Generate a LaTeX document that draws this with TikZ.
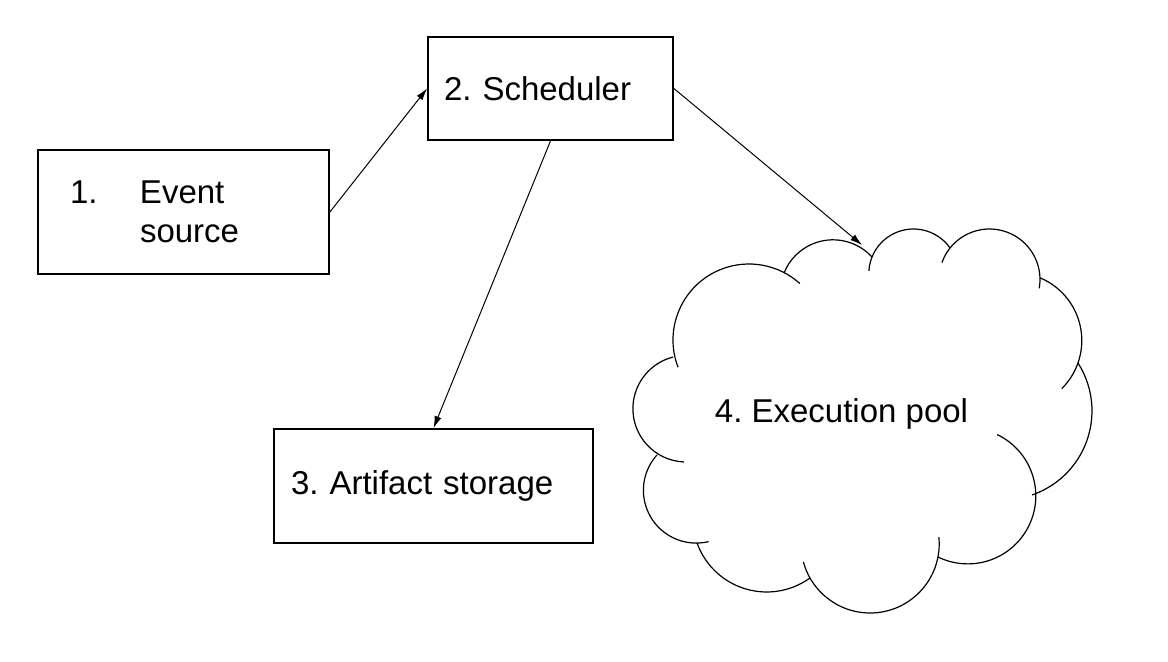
\documentclass[tikz,border=0pt]{standalone}
\usepackage{fontspec}
\setmainfont{Liberation Sans}
\usepackage{tikz}
\usetikzlibrary{arrows.meta}
\frenchspacing

\begin{document}
\begin{tikzpicture}[x=0.5pt,y=-0.5pt,
	every node/.style={font=\fontsize{16.5}{19.5}\selectfont},
	box/.style={draw, line width=0.9pt, rectangle, align=left, inner ysep=0pt},
	link/.style={-{Latex[length=6pt,width=3.6pt]}, line width=0.5pt},
	puff/.style={line width=0.6pt}]

	\useasboundingbox (0,0) rectangle (1168,662);

	\node[box, inner xsep=16pt, text width=113.5pt, minimum height=62pt] (evt) at (183.5,212) {\makebox[35pt][l]{1.}Event\\\hspace*{35pt}source};
	\node[box, inner xsep=8pt, text width=106.5pt, minimum height=51.5pt] (sched) at (550.5,88.5) {2. Scheduler};
	\node[box, inner xsep=8.5pt, text width=142.5pt, minimum height=57pt] (store) at (433.5,486) {3. Artifact storage};
	
	
	\draw[puff] (749,340) ++(159:76) arc[start angle=159, end angle=312, radius=76];
	\draw[puff] (833,292.5) ++(201.7:52.7) arc[start angle=201.7, end angle=317.7, radius=52.7];
	\draw[puff] (913.5,273.7) ++(183.5:44.7) arc[start angle=183.5, end angle=324.8, radius=44.7];
	\draw[puff] (989.5,279.5) ++(199.5:50.5) arc[start angle=199.5, end angle=370, radius=50.5];
	\draw[puff] (1013.9,340.5) ++(292.7:67.9) arc[start angle=292.7, end angle=405.2, radius=67.9];
	\draw[puff] (1003.1,410.9) ++(327.4:88.9) arc[start angle=327.4, end angle=431, radius=88.9];
	\draw[puff] (967.8,495.9) ++(295.6:68) arc[start angle=295.6, end angle=476, radius=68];
	\draw[puff] (870.1,543.9) ++(-5.6:69.1) arc[start angle=-5.6, end angle=164.9, radius=69.1];
	\draw[puff] (766.7,518) ++(54.2:74) arc[start angle=54.2, end angle=160.3, radius=74];
	\draw[puff] (696.2,490.3) ++(76.4:52.8) arc[start angle=76.4, end angle=222, radius=52.8];
	\draw[puff] (686.2,408.7) ++(92.4:53.3) arc[start angle=92.4, end angle=255.7, radius=53.3];
	
	\node[anchor=base] (pool) at (841.5,423) {4. Execution pool};
	\coordinate (poolin) at (862,245);
	
	
	\draw[link] (evt.east) -- (sched.west);
	\draw[link] (sched.south) -- (store.north);
	\draw[link] (sched.east) -- (poolin);
\end{tikzpicture}
\end{document}
